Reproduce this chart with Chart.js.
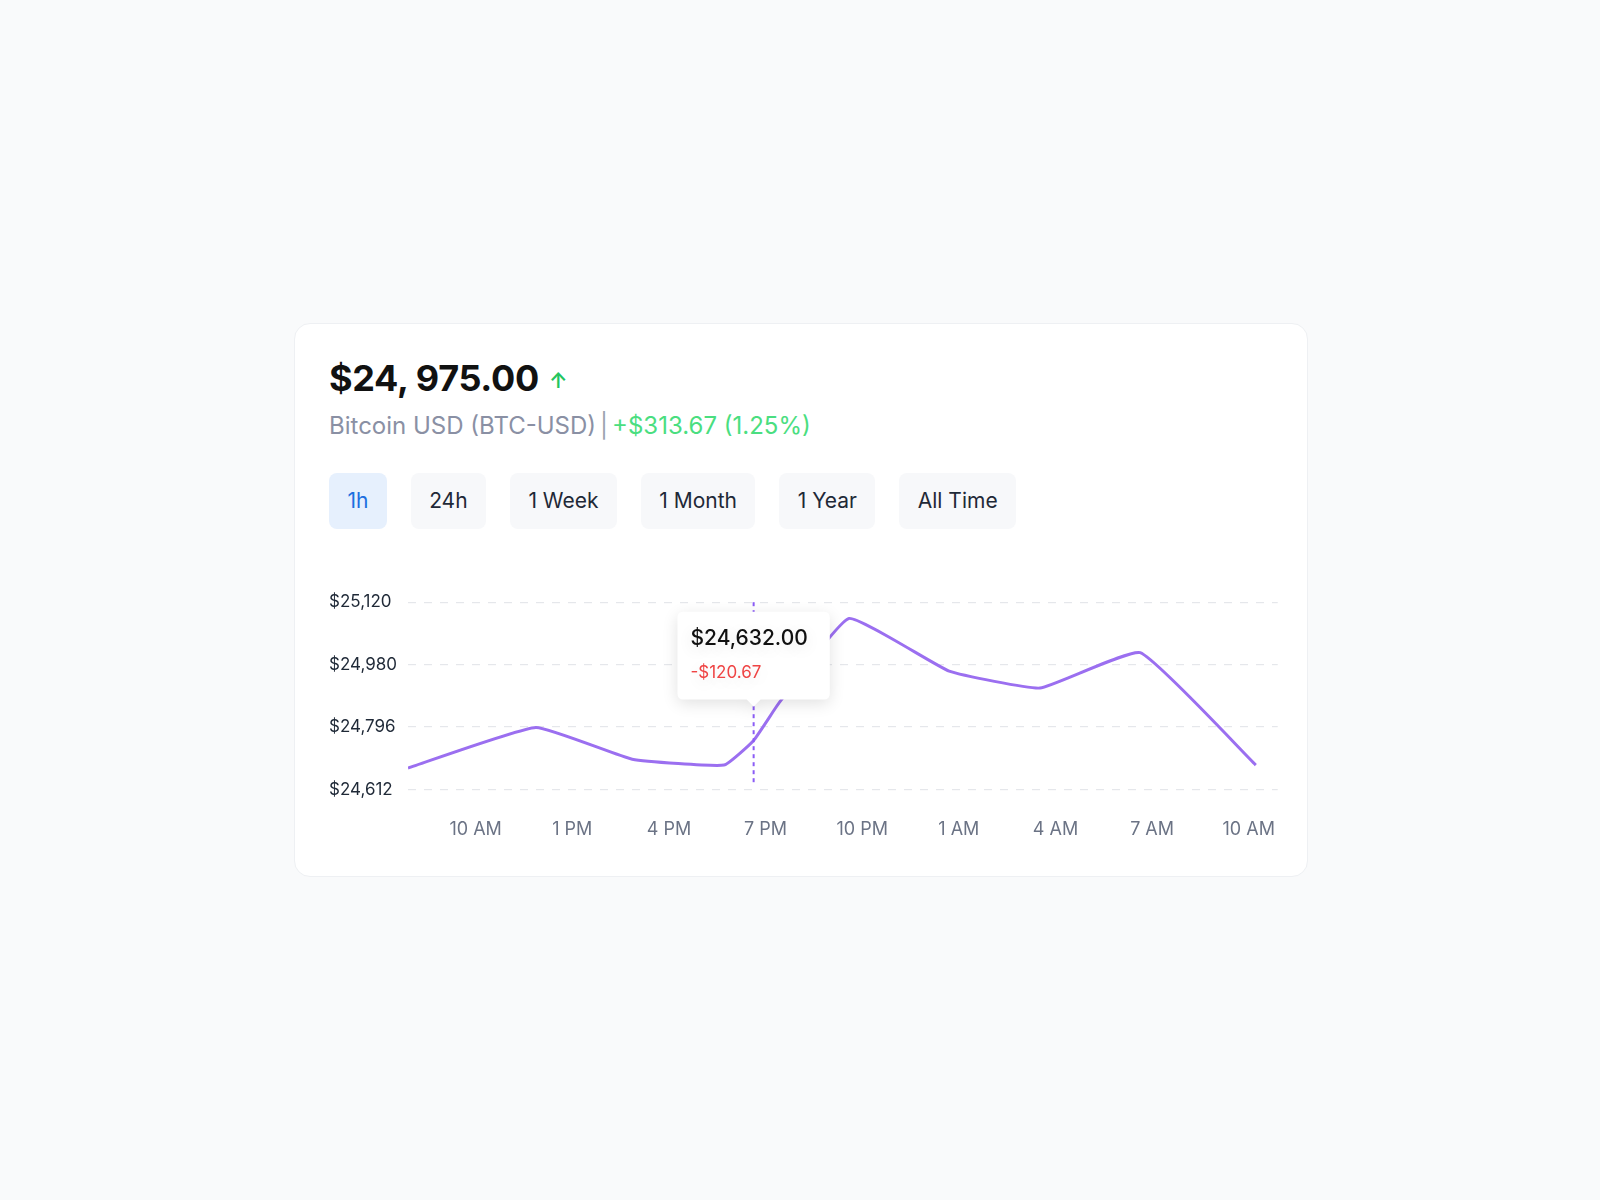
<!DOCTYPE html>
<html>
<head>
<meta charset="utf-8">
<script src="https://cdn.jsdelivr.net/npm/chart.js@4.4.0/dist/chart.umd.min.js"></script>
<style>
  html, body { margin: 0; padding: 0; background: #f9fafb; font-family: Inter, "Noto Sans", sans-serif; }
  .card { position: absolute; left: 294px; top: 323px; width: 1012px; height: 552px; background: #fff;
          border: 1px solid #eef0f3; border-radius: 16px; }
  .price { position: absolute; left: 34px; top: 32px; font-size: 36px; font-weight: 700; color: #111; letter-spacing: -0.3px; }
  .price span { color: #22c55e; font-size: 21px; font-weight: 600; margin-left: 10px; vertical-align: 3px; }
  .sub { position: absolute; left: 34px; top: 87px; font-size: 24px; color: #8a90a4; }
  .sub .sep { color: #9ca3af; margin: 0 4px; }
  .sub .up { color: #4ade80; }
  .btns { position: absolute; left: 34px; top: 149px; display: flex; gap: 24px; }
  .btns div { height: 56px; line-height: 56px; padding: 0 18.4px; border-radius: 8px; background: #f7f8fa;
              font-size: 21px; color: #1f2937; }
  .btns div.on { background: #e6f0fd; color: #1d6fe0; }
  .wrap { position: absolute; left: 34px; top: 260px; width: 967px; height: 277px; }
</style>
</head>
<body>
<div class="card">
  <div class="price">$24, 975.00<span>↑</span></div>
  <div class="sub">Bitcoin USD (BTC-USD)<span class="sep">|</span><span class="up">+$313.67 (1.25%)</span></div>
  <div class="btns"><div class="on">1h</div><div>24h</div><div>1 Week</div><div>1 Month</div><div>1 Year</div><div>All Time</div></div>
  <div class="wrap"><canvas id="myChart"></canvas></div>
</div>
<script>
// hours after 10 AM
const hours = [-2.1, 1.87, 4.86, 7.71, 8.63, 9.43, 11.59, 14.7, 17.52, 20.63, 24.22];
const prices = [24670, 24780, 24694, 24678, 24745, 24848, 25076, 24933, 24887, 24983, 24678];
const xTickHours = [0, 3, 6, 9, 12, 15, 18, 21, 24];
const xTickLabels = ['10 AM', '1 PM', '4 PM', '7 PM', '10 PM', '1 AM', '4 AM', '7 AM', '10 AM'];
const yTickLabels = ['$24,612', '$24,796', '$24,980', '$25,120'];
const tooltipPrice = '$24,632.00';
const tooltipChange = '-$120.67';
const activeIndex = 4;

const yMin = 24612, yMax = 25120;

const crosshair = {
  id: 'crosshair',
  afterDatasetsDraw(chart) {
    const pt = chart.getDatasetMeta(0).data[activeIndex];
    const { ctx, chartArea } = chart;
    ctx.save();
    ctx.strokeStyle = '#8b5cf6';
    ctx.lineWidth = 2;
    ctx.setLineDash([4, 4]);
    ctx.beginPath();
    ctx.moveTo(pt.x, chartArea.top);
    ctx.lineTo(pt.x, chartArea.bottom - 4);
    ctx.stroke();
    ctx.restore();
  },
  beforeTooltipDraw(chart) {
    const ctx = chart.ctx;
    ctx.save();
    ctx.shadowColor = 'rgba(0,0,0,0.12)';
    ctx.shadowBlur = 16;
    ctx.shadowOffsetY = 4;
  },
  afterTooltipDraw(chart) { chart.ctx.restore(); }
};

var ctx = document.getElementById('myChart').getContext('2d');
var chart = new Chart(ctx, {
  type: 'line',
  data: {
    datasets: [{
      data: hours.map((h, i) => ({ x: h, y: prices[i] })),
      borderColor: '#9b6ff0',
      borderWidth: 3,
      tension: 0.12,
      pointRadius: 0,
      pointHoverRadius: 0,
      fill: false
    }]
  },
  options: {
    responsive: true,
    maintainAspectRatio: false,
    animation: false,
    events: [],
    layout: { padding: { top: 10, right: 2 } },
    plugins: {
      legend: { display: false },
      tooltip: {
        enabled: true,
        backgroundColor: '#fff',
        titleColor: '#111',
        bodyColor: '#ef4444',
        titleFont: { family: 'Inter', size: 21, weight: '500' },
        bodyFont: { family: 'Inter', size: 17 },
        titleMarginBottom: 12,
        padding: { left: 13, right: 22, top: 14, bottom: 16 },
        cornerRadius: 6,
        caretSize: 7,
        caretPadding: 34,
        displayColors: false,
        yAlign: 'bottom',
        xAlign: 'center',
        callbacks: {
          title: () => tooltipPrice,
          label: () => tooltipChange
        }
      }
    },
    scales: {
      x: {
        type: 'linear',
        min: -2.1,
        max: 24.9,
        afterBuildTicks: (axis) => { axis.ticks = xTickHours.map(v => ({ value: v })); },
        ticks: {
          color: '#6b7385',
          font: { family: 'Inter', size: 18 },
          padding: 21,
          maxRotation: 0,
          callback: (v) => xTickLabels[xTickHours.indexOf(v)]
        },
        grid: { display: false },
        border: { display: false }
      },
      y: {
        min: yMin,
        max: yMax,
        afterBuildTicks: (axis) => {
          axis.ticks = yTickLabels.map((_, i) => ({ value: yMin + (yMax - yMin) * i / (yTickLabels.length - 1) }));
        },
        afterFit: (axis) => { axis.width = 79; },
        ticks: {
          color: '#1f2937',
          font: { family: 'Inter', size: 17 },
          crossAlign: 'far',
          padding: 8,
          callback: (v, i) => yTickLabels[i]
        },
        grid: { color: '#e5e7eb', lineWidth: 1.2, drawTicks: false },
        border: { display: false, dash: [8, 8] }
      }
    }
  },
  plugins: [crosshair]
});

chart.tooltip.setActiveElements([{ datasetIndex: 0, index: activeIndex }], { x: 0, y: 0 });
chart.update();
</script>
</body>
</html>
